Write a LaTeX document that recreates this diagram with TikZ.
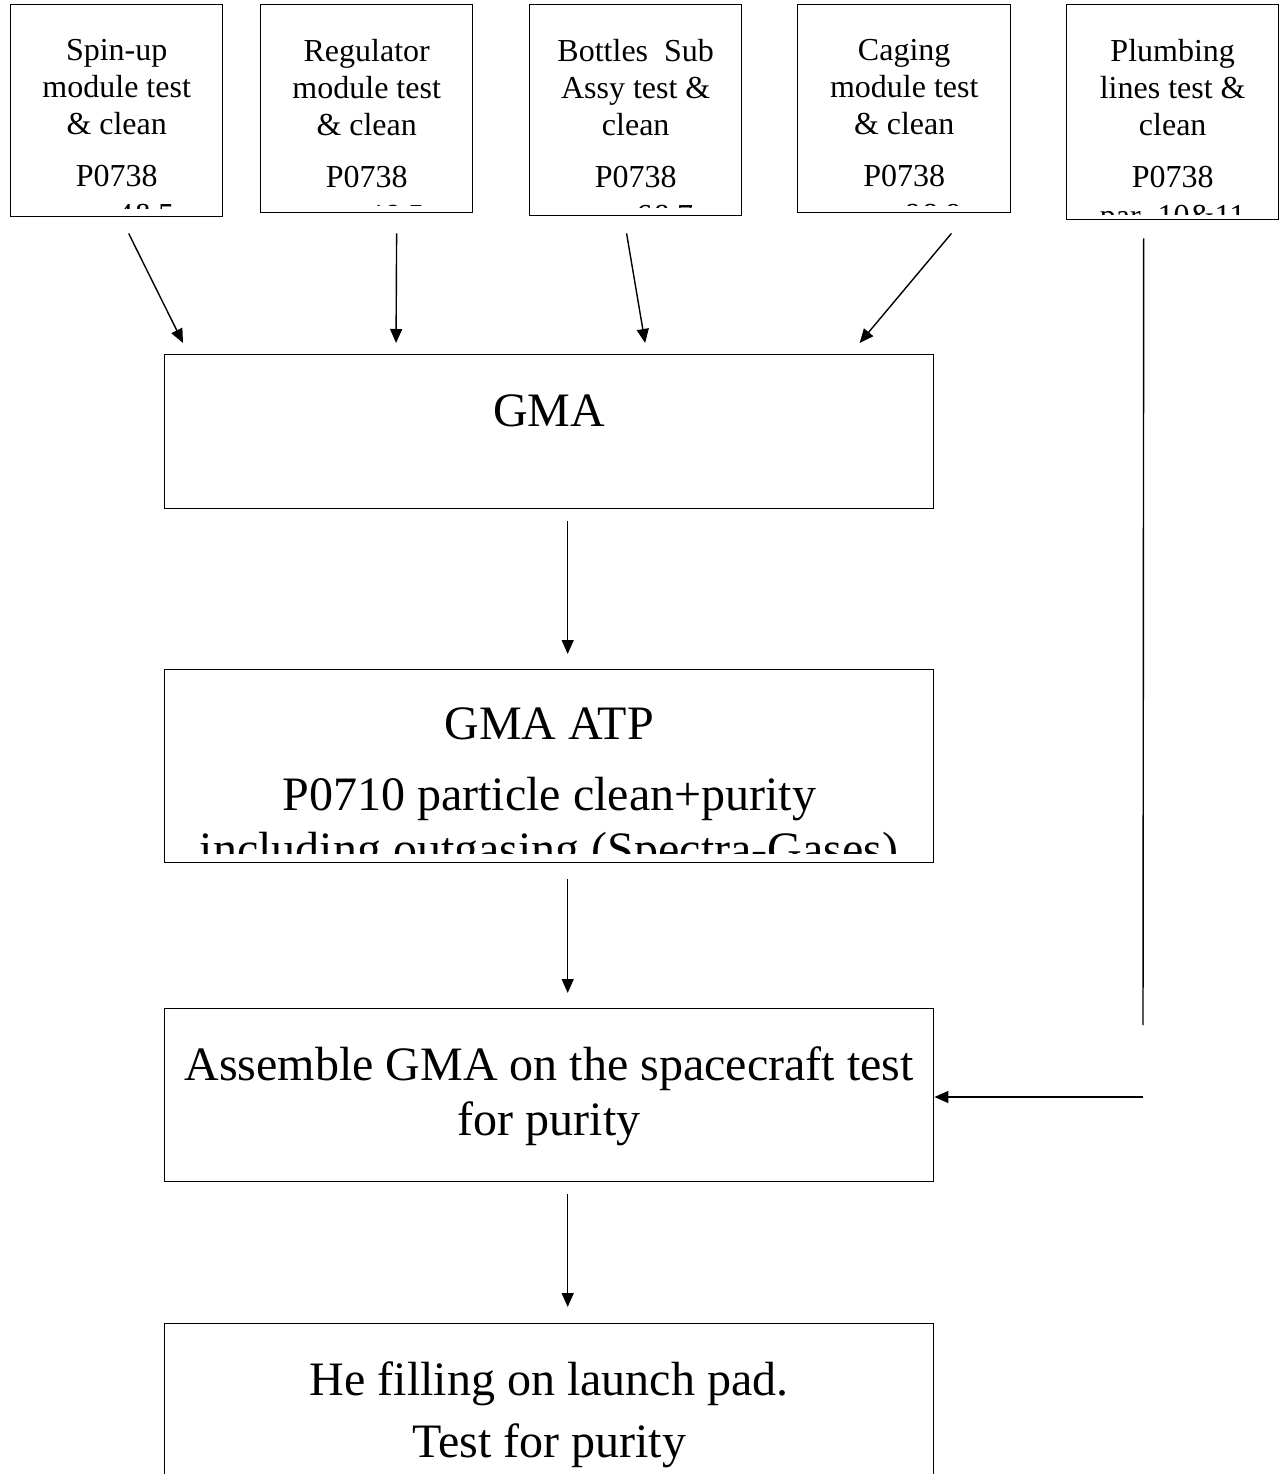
\documentclass[tikz,border=0pt]{standalone}
\usepackage{fontspec}
\setmainfont{Liberation Serif}
\usetikzlibrary{arrows.meta,positioning}
\tikzset{
box/.style={draw, line width=1.4pt, inner sep=0pt, anchor=north west},
small/.style={font=\fontsize{32}{37}\selectfont, align=center, inner sep=0pt},
big/.style={font=\fontsize{48}{55}\selectfont, align=center, inner sep=0pt},
arr/.style={line width=1.4pt, -{Triangle[length=14pt,width=12pt]}}
}
\begin{document}
\begin{tikzpicture}[x=1pt, y=-1pt]
\useasboundingbox (0,0) rectangle (1280,1474);
% modules
\node[box, minimum width=212pt, minimum height=212pt] (spin) at (10,4) {};
\node[box, minimum width=212pt, minimum height=208pt] (reg) at (260,4) {};
\node[box, minimum width=212pt, minimum height=211pt] (bottles) at (529,4) {};
\node[box, minimum width=213pt, minimum height=208pt] (caging) at (797,4) {};
\node[box, minimum width=212pt, minimum height=215pt] (plumb) at (1066,4) {};
%
\begin{scope}
\clip ([yshift=9pt]spin.south west) rectangle (spin.north east);
\node[small, below=35pt of spin.north] (spintxt) {Spin-up\\module test\\\& clean\\[15pt]P0738\\[2pt]par. 4\&5};
\end{scope}
\begin{scope}
\clip ([yshift=8pt]reg.south west) rectangle (reg.north east);
\node[small, below=35pt of reg.north] (regtxt) {Regulator\\module test\\\& clean\\[15pt]P0738\\[2pt]par. 4\&5};
\end{scope}
\begin{scope}
\clip ([yshift=9pt]bottles.south west) rectangle (bottles.north east);
\node[small, below=35pt of bottles.north] (bottlestxt) {Bottles~~Sub\\Assy test \&\\clean\\[15pt]P0738\\[2pt]par. 6\&7};
\end{scope}
\begin{scope}
\clip ([yshift=8pt]caging.south west) rectangle (caging.north east);
\node[small, below=35pt of caging.north] (cagingtxt) {Caging\\module test\\\& clean\\[15pt]P0738\\[2pt]par. 8\&9};
\end{scope}
\begin{scope}
\clip ([yshift=6pt]plumb.south west) rectangle (plumb.north east);
\node[small, below=35pt of plumb.north] (plumbtxt) {Plumbing\\lines test \&\\clean\\[15pt]P0738\\[2pt]par. 10\&11};
\end{scope}
% main line
\node[box, minimum width=769pt, minimum height=154pt] (gma) at (164,354) {};
\node[big, below=40.5pt of gma.north] (gmatxt) {GMA};
\node[box, minimum width=769pt, minimum height=193pt] (atp) at (164,669) {};
\begin{scope}
\clip ([yshift=10pt]atp.south west) rectangle (atp.north east);
\node[big, below=38.5pt of atp.north] (atptxt) {GMA ATP\\[16pt]P0710 particle clean+purity\\including outgasing (Spectra-Gases)};
\end{scope}
\node[box, minimum width=769pt, minimum height=173pt] (assy) at (164,1008) {};
\node[big, below=38pt of assy.north] (assytxt) {Assemble GMA on the spacecraft test\\for purity};
\node[box, minimum width=769pt, minimum height=200pt] (pad) at (164,1323) {};
\node[big, below=38pt of pad.north] (padtxt) {He filling on launch pad.\\[7pt]Test for purity};
% arrows
\draw[arr, shorten <=17.9pt, shorten >=12.3pt] ([xshift=4pt]spin.south) -- ([xshift=24.5pt]gma.north west);
\draw[arr, shorten <=20pt, shorten >=11pt] ([xshift=30pt]reg.south) -- ([xshift=232pt]gma.north west);
\draw[arr, shorten <=17.2pt, shorten >=11.2pt] ([xshift=-12pt]bottles.south) -- ([xshift=483pt]gma.north west);
\draw[arr, shorten <=26.1pt, shorten >=14.4pt] ([xshift=64pt]caging.south) -- ([xshift=-84pt]gma.north east);
%
\coordinate (pipeend) at (1143,1025);
\coordinate (pipein) at (1143,1097);
\draw[line width=1.4pt, shorten <=18pt] ([xshift=-29pt]plumb.south) -- (pipeend);
\draw[arr] (pipein) -- (pipein -| assy.east);
%
\draw[arr, shorten <=12pt, shorten >=15pt] ([xshift=18.5pt]gma.south) -- ([xshift=18.5pt]atp.north);
\draw[arr, shorten <=16pt, shorten >=15pt] ([xshift=18.5pt]atp.south) -- ([xshift=18.5pt]assy.north);
\draw[arr, shorten <=12pt, shorten >=16pt] ([xshift=18.5pt]assy.south) -- ([xshift=18.5pt]pad.north);
\end{tikzpicture}
\end{document}
